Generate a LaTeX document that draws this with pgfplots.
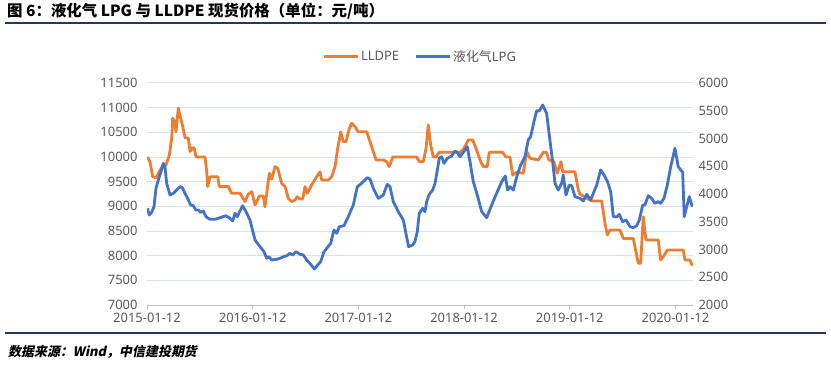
\documentclass[border=0pt]{standalone}
\usepackage{fontspec}
\setmainfont{Noto Sans}
\newfontfamily\cjk{Noto Sans CJK SC}
\newfontfamily\cjkit[FakeSlant=0.2]{Noto Sans CJK SC}
\usepackage{pgfplots}
\pgfplotsset{compat=1.18}
\definecolor{lldpe}{HTML}{ED7D31}
\definecolor{lpg}{HTML}{4472C4}
\definecolor{gridc}{HTML}{D9E1F2}
\definecolor{navy}{HTML}{1F3864}
\definecolor{tickc}{HTML}{595959}
\definecolor{axc}{HTML}{BFBFBF}
\begin{document}
\begin{tikzpicture}[x=1bp,y=1bp]
\path[use as bounding box, fill=white] (0,0) rectangle (831,366);
\draw[navy, line width=2bp] (5,343) -- (826,343);
\draw[navy, line width=2bp] (5,33) -- (826,33);
\node[anchor=west, inner sep=0pt, font=\cjk\bfseries\fontsize{15.5}{15.5}\selectfont] at (7,355) {图 6：液化气 LPG 与 LLDPE 现货价格（单位：元/吨）};
\node[anchor=west, inner sep=0pt, font=\cjkit\bfseries\fontsize{13}{13}\selectfont] at (8,14) {数据来源：Wind，中信建投期货};

\begin{axis}[at={(147bp,61bp)}, anchor=south west, scale only axis,
  width=546bp, height=222bp,
  xmin=0, xmax=5.166, ymin=7000, ymax=11500,
  ytick={7000,7500,...,11500},
  xtick={0,1,2,3,4,5},
  xticklabels={2015-01-12,2016-01-12,2017-01-12,2018-01-12,2019-01-12,2020-01-12},
  axis y line*=left, axis x line*=bottom,
  y axis line style={draw=none},
  x axis line style={draw=axc, line width=1bp, -},
  ymajorgrids, grid style={gridc, line width=1bp},
  tick align=outside,
  xtick style={draw=axc, line width=0.8bp},
  major tick length=4bp,
  ytick style={draw=none},
  ticklabel style={font=\fontsize{13}{13}\selectfont, text=tickc},
  /pgf/number format/assume math mode=true,
  /pgf/number format/1000 sep={},
  scaled y ticks=false,
  yticklabel style={xshift=-2bp},
  xticklabel style={yshift=-1bp},
]
\addplot[lldpe, line width=2.8bp, line join=round] table[row sep=\\]{
x y\\
0.003 10000\\ 0.028 9905\\ 0.054 9600\\ 0.085 9580\\ 0.116 9700\\ 0.149 9825\\ 0.180 9840\\
0.211 10040\\ 0.234 10380\\ 0.243 10785\\ 0.262 10715\\ 0.274 10510\\ 0.296 10990\\ 0.312 10850\\
0.338 10615\\ 0.360 10390\\ 0.391 10380\\ 0.407 10110\\ 0.432 10190\\ 0.448 10175\\ 0.464 10000\\
0.549 10000\\ 0.565 9700\\ 0.574 9400\\ 0.596 9600\\ 0.669 9600\\ 0.684 9400\\ 0.769 9400\\
0.801 9265\\ 0.880 9265\\ 0.927 9095\\ 0.958 9245\\ 0.991 9300\\ 1.022 9027\\ 1.062 9210\\
1.100 9210\\ 1.116 8990\\ 1.157 9670\\ 1.180 9550\\ 1.211 9805\\ 1.237 9770\\ 1.274 9467\\
1.306 9400\\ 1.337 9162\\ 1.369 9095\\ 1.400 9128\\ 1.422 9195\\ 1.447 9150\\ 1.473 9150\\
1.495 9400\\ 1.517 9265\\ 1.558 9433\\ 1.605 9600\\ 1.637 9700\\ 1.653 9534\\ 1.715 9534\\
1.747 9600\\ 1.779 9805\\ 1.804 10175\\ 1.833 10510\\ 1.857 10310\\ 1.883 10310\\ 1.914 10580\\
1.937 10683\\ 1.968 10615\\ 1.999 10510\\ 2.079 10510\\ 2.110 10310\\ 2.141 10110\\ 2.167 9940\\
2.236 9940\\ 2.268 9905\\ 2.292 9805\\ 2.325 10000\\ 2.552 10000\\ 2.576 9905\\ 2.614 9905\\
2.640 10175\\ 2.661 10650\\ 2.684 10243\\ 2.709 10000\\ 2.734 10000\\ 2.765 10095\\ 2.961 10095\\
2.999 10175\\ 3.040 10345\\ 3.081 10345\\ 3.113 10175\\ 3.157 9905\\ 3.182 9805\\ 3.219 9805\\
3.238 10095\\ 3.365 10095\\ 3.396 10000\\ 3.434 10000\\ 3.460 9635\\ 3.498 9690\\ 3.560 9670\\
3.592 10110\\ 3.623 9975\\ 3.702 9940\\ 3.749 10095\\ 3.780 10095\\ 3.802 9940\\ 3.850 9905\\
3.881 9670\\ 3.917 9905\\ 3.933 9700\\ 4.049 9700\\ 4.081 9330\\ 4.097 9245\\ 4.207 9110\\
4.302 9110\\ 4.333 8655\\ 4.355 8420\\ 4.380 8520\\ 4.475 8520\\ 4.506 8350\\ 4.601 8350\\
4.648 7845\\ 4.671 7845\\ 4.695 8790\\ 4.721 8318\\ 4.837 8318\\ 4.860 7912\\ 4.885 7980\\
4.923 8115\\ 5.074 8115\\ 5.090 7912\\ 5.137 7912\\ 5.159 7797\\
};
\end{axis}

\begin{axis}[at={(147bp,61bp)}, anchor=south west, scale only axis,
  width=546bp, height=222bp,
  xmin=0, xmax=5.166, ymin=2000, ymax=6000,
  ytick={2000,2500,...,6000},
  axis y line*=right, axis x line=none,
  y axis line style={draw=none},
  ytick style={draw=none},
  ticklabel style={font=\fontsize{13}{13}\selectfont, text=tickc},
  /pgf/number format/assume math mode=true,
  /pgf/number format/1000 sep={},
  scaled y ticks=false,
  yticklabel style={xshift=2bp},
  legend columns=2,
  legend style={at={(0.5,1.12)}, anchor=center, draw=none, fill=none,
    font=\fontsize{13}{13}\selectfont, text=tickc,
    /tikz/every even column/.append style={column sep=14bp},
    nodes={inner sep=1.5bp}},
  legend image code/.code={\draw[#1] (0bp,0bp) -- (34bp,0bp);},
]
\addlegendimage{lldpe, line width=3bp}
\addlegendentry{LLDPE}
\addlegendimage{lpg, line width=3bp}
\addlegendentry{{\cjk 液化气}LPG}
\addplot[lpg, line width=2.8bp, line join=round, forget plot] table[row sep=\\]{
x y\\
0.003 3742\\ 0.022 3622\\ 0.044 3670\\ 0.066 3771\\ 0.085 4103\\ 0.107 4253\\ 0.132 4402\\
0.154 4553\\ 0.170 4492\\ 0.186 4193\\ 0.218 3982\\ 0.249 4013\\ 0.281 4072\\ 0.312 4132\\
0.334 4114\\ 0.360 4013\\ 0.391 3892\\ 0.413 3802\\ 0.438 3789\\ 0.461 3712\\ 0.485 3712\\
0.508 3670\\ 0.533 3694\\ 0.558 3591\\ 0.596 3544\\ 0.643 3544\\ 0.691 3573\\ 0.747 3609\\
0.785 3562\\ 0.811 3514\\ 0.833 3652\\ 0.854 3591\\ 0.880 3694\\ 0.905 3789\\ 0.937 3681\\
0.974 3532\\ 1.022 3171\\ 1.069 3051\\ 1.107 2961\\ 1.132 2842\\ 1.154 2870\\ 1.180 2811\\
1.227 2823\\ 1.258 2842\\ 1.290 2870\\ 1.322 2888\\ 1.353 2932\\ 1.378 2901\\ 1.410 2961\\
1.447 2914\\ 1.479 2901\\ 1.511 2811\\ 1.549 2733\\ 1.583 2649\\ 1.615 2721\\ 1.643 2780\\
1.675 2961\\ 1.706 3033\\ 1.738 3112\\ 1.769 3352\\ 1.795 3292\\ 1.819 3411\\ 1.864 3429\\
1.904 3591\\ 1.952 3802\\ 1.990 4132\\ 2.031 4193\\ 2.084 4294\\ 2.110 4270\\ 2.141 4103\\
2.188 3922\\ 2.236 3982\\ 2.273 4175\\ 2.299 4132\\ 2.330 3862\\ 2.378 3681\\ 2.425 3530\\
2.453 3261\\ 2.475 3051\\ 2.514 3081\\ 2.535 3141\\ 2.557 3321\\ 2.576 3652\\ 2.608 3742\\
2.630 3681\\ 2.646 3862\\ 2.671 3995\\ 2.703 4072\\ 2.725 4193\\ 2.750 4463\\ 2.765 4643\\
2.788 4672\\ 2.810 4553\\ 2.841 4643\\ 2.883 4685\\ 2.914 4775\\ 2.936 4751\\ 2.961 4672\\
3.009 4793\\ 3.030 4853\\ 3.056 4582\\ 3.087 4222\\ 3.125 3982\\ 3.167 3681\\ 3.214 3573\\
3.261 3802\\ 3.308 4013\\ 3.356 4222\\ 3.390 4325\\ 3.412 4072\\ 3.434 4132\\ 3.466 4072\\
3.503 4343\\ 3.536 4523\\ 3.576 4672\\ 3.607 4973\\ 3.630 5033\\ 3.661 5303\\ 3.687 5500\\
3.711 5496\\ 3.744 5604\\ 3.781 5454\\ 3.806 5063\\ 3.838 4582\\ 3.860 4193\\ 3.891 4072\\
3.923 4193\\ 3.938 4343\\ 3.964 3982\\ 3.995 4162\\ 4.018 4150\\ 4.049 3952\\ 4.097 3922\\
4.128 3874\\ 4.160 3995\\ 4.198 3892\\ 4.229 4042\\ 4.255 4162\\ 4.292 4433\\ 4.323 4343\\
4.355 4234\\ 4.387 4042\\ 4.412 3591\\ 4.449 3591\\ 4.468 3634\\ 4.500 3501\\ 4.532 3532\\
4.570 3411\\ 4.601 3393\\ 4.633 3429\\ 4.658 3532\\ 4.690 3802\\ 4.711 3802\\ 4.743 3970\\
4.774 3922\\ 4.806 3832\\ 4.837 3862\\ 4.860 3832\\ 4.891 3922\\ 4.923 4162\\ 4.955 4492\\
4.995 4823\\ 5.026 4492\\ 5.068 4391\\ 5.083 3591\\ 5.106 3771\\ 5.131 3952\\ 5.159 3771\\
};
\end{axis}
\end{tikzpicture}
\end{document}
